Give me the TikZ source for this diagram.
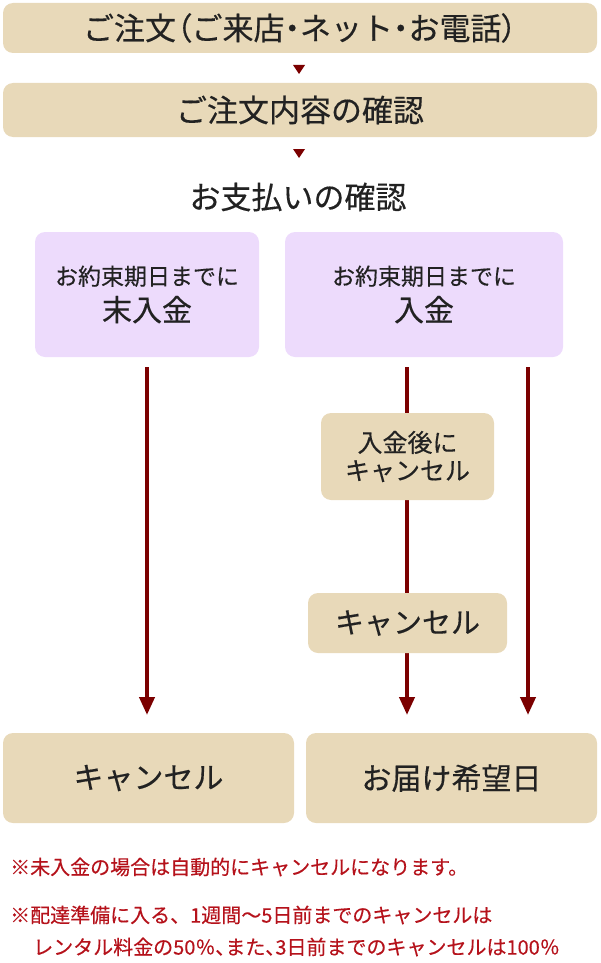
\documentclass[tikz,border=0pt]{standalone}
\usepackage{fontspec}
\setmainfont{Noto Sans CJK JP}[FakeBold=0.35]
\newfontfamily\paltfont{Noto Sans CJK JP}[FakeBold=0.35,RawFeature=+palt]
\usetikzlibrary{arrows.meta}
\definecolor{beige}{HTML}{E8D9B9}
\definecolor{lilac}{HTML}{EDDBFC}
\definecolor{darkred}{HTML}{7B0000}
\definecolor{notered}{HTML}{B5121B}
\definecolor{ink}{HTML}{222222}
\newcommand{\fs}[1]{\fontsize{#1}{#1}\selectfont}
\newcommand{\pp}[1]{{\paltfont #1}}
\begin{document}
\begin{tikzpicture}[x=1pt,y=-1pt,
  box/.style={fill=beige,rounded corners=10pt,inner sep=0pt,align=center,text=ink},
  pbox/.style={fill=lilac,rounded corners=10pt,inner sep=0pt,align=center,text=ink},
  flow/.style={draw=darkred,line width=4pt,-{Triangle[width=15pt,length=18pt]}},
  marker/.style={fill=darkred},
  note/.style={text=notered,anchor=west,inner sep=0pt,font=\fs{20}}]
\useasboundingbox (0,0) rectangle (600,963);
\node[box,minimum width=594pt,minimum height=50pt,font=\fs{31}] (b1) at (300,28) {ご注文\pp{（}ご来店\pp{・}ネット\pp{・}お電話\pp{）}};
\node[box,minimum width=594pt,minimum height=54pt,font=\fs{31}] (b2) at (300,110) {ご注文内容の確認};
\fill[marker] (293,65) -- (305,65) -- (299,74) -- cycle;
\fill[marker] (293,149) -- (305,149) -- (299,158) -- cycle;
\node[text=ink,font=\fs{31},inner sep=0pt] (pay) at (298,197) {お支払いの確認};
\node[pbox,minimum width=224pt,minimum height=125pt] (p1) at (147,294.5) {{\fs{23}お約束期日までに}\\[8pt]{\fs{30}末入金}};
\node[pbox,minimum width=278pt,minimum height=125pt] (p2) at (424,294.5) {{\fs{23}お約束期日までに}\\[8pt]{\fs{30}入金}};
\node[box,minimum width=291pt,minimum height=90pt,font=\fs{30}] (c1) at (148.5,778) {キャンセル};
\node[box,minimum width=291pt,minimum height=90pt,font=\fs{30}] (c2) at (451.5,778) {お届け希望日};
\coordinate (s1) at (147,367);
\coordinate (e1) at (147,715);
\coordinate (s2) at (407,367);
\coordinate (e2) at (407,715);
\coordinate (s3) at (528,367);
\coordinate (e3) at (528,715);
\draw[flow] (s1) -- (e1);
\draw[flow] (s2) -- (e2);
\draw[flow] (s3) -- (e3);
\node[box,minimum width=173pt,minimum height=87pt,font=\fs{25}] (m1) at (407.5,456.5) {入金後に\\[3pt]キャンセル};
\node[box,minimum width=199pt,minimum height=60pt,font=\fs{29}] (m2) at (407.5,623) {キャンセル};
\node[note] (n1) at (10,867) {※未入金の場合は自動的にキャンセルになります。};
\node[note] (n2) at (10,915) {※配達準備に入る、1週間〜5日前までのキャンセルは};
\node[note] (n3) at (33,947) {レンタル料金の50％\pp{、}また\pp{、}3日前までのキャンセルは100％};
\end{tikzpicture}
\end{document}
